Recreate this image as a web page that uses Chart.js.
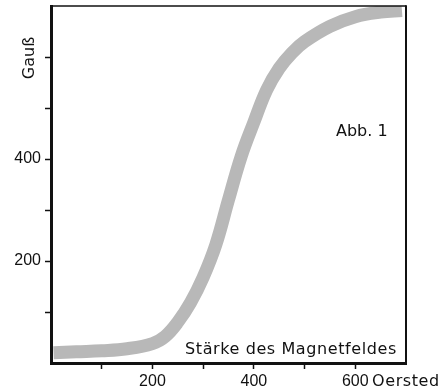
<!DOCTYPE html>
<html>
<head>
<meta charset="utf-8">
<script src="https://cdn.jsdelivr.net/npm/chart.js@4"></script>
<style>
  html, body { margin: 0; padding: 0; background: #fff; }
  #wrap { width: 443px; height: 392px; position: relative; }
</style>
</head>
<body>
<div id="wrap"><canvas id="magChart"></canvas></div>
<script>
// Magnetisierungskurve: Feldstärke (Oersted) gegen Induktion (Gauß)
const fieldOe = [5, 50, 100, 150, 200, 225, 250, 275, 300, 325, 350, 375, 400, 425, 450, 475, 500, 550, 600, 650, 692];
const gauss   = [20, 22, 24, 28, 38, 52, 80, 118, 168, 232, 320, 405, 472, 535, 578, 608, 630, 660, 679, 688, 691];

const xTicksLabelled = [200, 400, 600];
const yTicksLabelled = [200, 400];

const TICK_FONT = "'Liberation Sans', Arial, sans-serif";
const TEXT_FONT = "'DejaVu Sans', sans-serif";

// Rahmen oben/rechts und die Beschriftungen im Bild
const framePlugin = {
    id: "frame",
    afterDraw(chart) {
        const { ctx, chartArea: a } = chart;
        ctx.save();
        ctx.strokeStyle = "#111";
        ctx.lineWidth = 1.5;
        ctx.beginPath();
        ctx.moveTo(a.left, a.top);
        ctx.lineTo(a.right, a.top);
        ctx.stroke();
        ctx.lineWidth = 2;
        ctx.beginPath();
        ctx.moveTo(a.right, a.top - 0.75);
        ctx.lineTo(a.right, a.bottom);
        ctx.stroke();

        ctx.fillStyle = "#111";
        ctx.textBaseline = "middle";
        ctx.textAlign = "left";

        ctx.font = "16px " + TEXT_FONT;
        ctx.fillText("Abb. 1", 336, 132);

        ctx.letterSpacing = "0.6px";
        ctx.fillText("Stärke des Magnetfeldes", 185, 350);
        ctx.fillText("Oersted", 372, 382);

        ctx.translate(30, 58);
        ctx.rotate(-Math.PI / 2);
        ctx.textAlign = "center";
        ctx.letterSpacing = "0px";
        ctx.fillText("Gauß", 0, 0);
        ctx.restore();
    }
};

const hideEnds = (c) => (c.tick && (c.tick.value === 0 || c.tick.value === 700)) ? "rgba(0,0,0,0)" : "#111";
const tickText = (list) => (v) => (v === 0 || v === 700) ? null : (list.includes(v) ? String(v) : "");

new Chart(document.getElementById("magChart"), {
    type: "line",
    data: {
        datasets: [{
            data: fieldOe.map((x, i) => ({ x: x, y: gauss[i] })),
            borderColor: "#b8b8b8",
            borderWidth: 13,
            borderCapStyle: "butt",
            pointRadius: 0,
            tension: 0.4,
            fill: false
        }]
    },
    options: {
        responsive: true,
        maintainAspectRatio: false,
        animation: false,
        layout: { padding: { top: 6, right: 37, left: 0, bottom: 0 } },
        plugins: { legend: { display: false }, tooltip: { enabled: false } },
        scales: {
            x: {
                type: "linear",
                min: 0,
                max: 700,
                afterFit: s => { s.height = 29; s.paddingLeft = 0; s.paddingRight = 0; },
                border: { display: true, color: "#111", width: 3 },
                grid: { drawOnChartArea: false, drawTicks: true, tickLength: 6, tickWidth: 1.5, color: hideEnds },
                ticks: {
                    stepSize: 100,
                    padding: 3,
                    maxRotation: 0,
                    color: "#111",
                    font: { family: TICK_FONT, size: 16 },
                    callback: tickText(xTicksLabelled)
                }
            },
            y: {
                min: 0,
                max: 700,
                afterFit: s => { s.width = 51; s.paddingTop = 0; s.paddingBottom = 0; },
                border: { display: true, color: "#111", width: 3 },
                grid: { drawOnChartArea: false, drawTicks: true, tickLength: 6, tickWidth: 1.5, color: hideEnds },
                ticks: {
                    stepSize: 100,
                    padding: 4,
                    color: "#111",
                    font: { family: TICK_FONT, size: 16 },
                    callback: tickText(yTicksLabelled)
                }
            }
        }
    },
    plugins: [framePlugin]
});
</script>
</body>
</html>
